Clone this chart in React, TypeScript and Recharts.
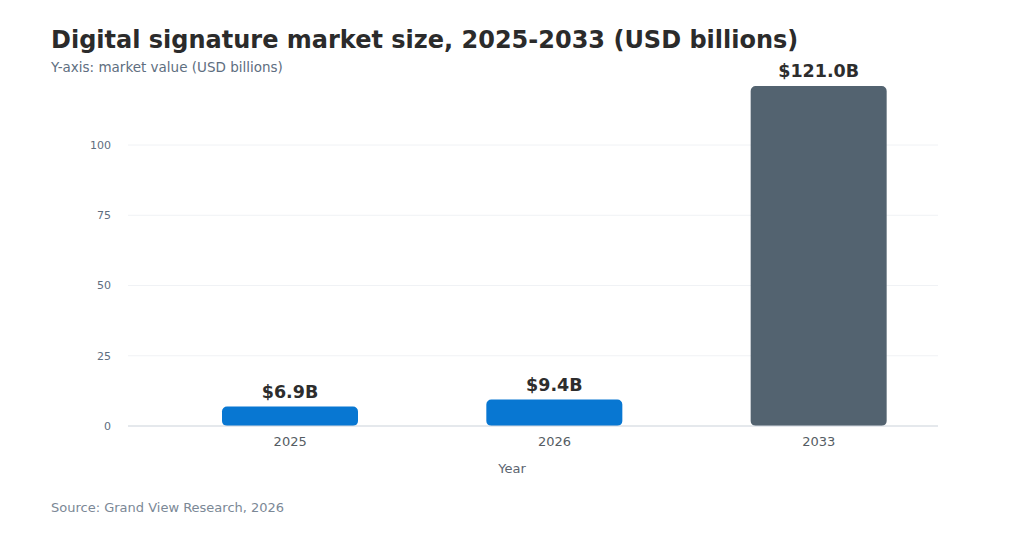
import { BarChart, Bar, XAxis, YAxis, CartesianGrid, Cell, LabelList } from 'recharts'

const years = ['2025', '2026', '2033']
const marketValues = [6.9, 9.4, 121.0]
const barColors = ['#0877d2', '#0877d2', '#536370']
const yTicks = [0, 25, 50, 75, 100]

const data = years.map((year, i) => ({ year, value: marketValues[i] }))

const font = '"DejaVu Sans", Verdana, sans-serif'

export default function App() {
  return (
    <div
      style={{
        position: 'absolute',
        left: 0,
        top: 0,
        width: 1024,
        height: 536,
        background: '#ffffff',
        fontFamily: font,
        overflow: 'hidden',
      }}
    >
      <div
        style={{
          position: 'absolute',
          left: 51,
          top: 28,
          fontSize: 24,
          lineHeight: 1,
          fontWeight: 'bold',
          color: '#2b2b2b',
          whiteSpace: 'nowrap',
        }}
      >
        Digital signature market size, 2025-2033 (USD billions)
      </div>
      <div
        style={{
          position: 'absolute',
          left: 51,
          top: 61,
          fontSize: 13.5,
          lineHeight: 1,
          color: '#5e6e80',
          whiteSpace: 'nowrap',
        }}
      >
        Y-axis: market value (USD billions)
      </div>

      <BarChart
        width={1024}
        height={536}
        data={data}
        margin={{ top: 86, right: 86, bottom: 50, left: 68 }}
      >
        <CartesianGrid vertical={false} stroke="#f0f2f5" horizontalValues={yTicks} />
        <XAxis
          dataKey="year"
          height={60}
          padding={{ left: 30, right: -13 }}
          tickLine={false}
          tickMargin={5}
          axisLine={{ stroke: '#d3d8df' }}
          tick={{ fontSize: 13, fill: '#555c63', fontFamily: font }}
          label={{
            value: 'Year',
            position: 'insideBottom',
            offset: 13,
            dx: -21,
            fontSize: 13,
            fill: '#5b6470',
            fontFamily: font,
          }}
        />
        <YAxis
          width={60}
          domain={[0, 'dataMax']}
          ticks={yTicks}
          tickLine={false}
          axisLine={false}
          tickMargin={11}
          tick={{ fontSize: 11, fill: '#5e6e80', fontFamily: font }}
        />
        <Bar dataKey="value" barSize={136} radius={5} isAnimationActive={false}>
          {data.map((d, i) => (
            <Cell key={d.year} fill={barColors[i]} />
          ))}
          <LabelList
            dataKey="value"
            position="top"
            offset={9}
            formatter={(v: number) => `$${v.toFixed(1)}B`}
            style={{ fontSize: 17.5, fontWeight: 'bold', fill: '#2d2d2d', fontFamily: font }}
          />
        </Bar>
      </BarChart>

      <div
        style={{
          position: 'absolute',
          left: 51,
          top: 501,
          fontSize: 13,
          lineHeight: 1,
          color: '#7b8896',
          whiteSpace: 'nowrap',
        }}
      >
        Source: Grand View Research, 2026
      </div>
    </div>
  )
}
